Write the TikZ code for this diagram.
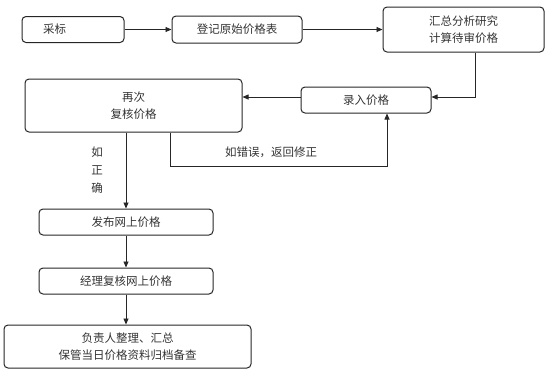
\documentclass[tikz,border=0pt]{standalone}
\usepackage{fontspec}
\newfontfamily\cjk{Noto Sans CJK SC}
\usetikzlibrary{arrows.meta,calc}

\tikzset{
  stepbox/.style={draw=black!85,line width=1pt,rounded corners=4pt,align=center,
    inner sep=0pt,text=black!80},
  link/.style={draw=black!85,line width=0.8pt},
}

\begin{document}
\begin{tikzpicture}[>={Triangle[length=6pt,width=5pt]},x=1pt,y=-1pt,
    font=\cjk\fontsize{11.5}{17}\selectfont]
  \useasboundingbox (0,0) rectangle (554,384);
  % top row
  \node[stepbox,minimum height=26pt,text width=60pt,inner xsep=21pt,align=left] (cai) at (73,29.5) {采标};
  \node[stepbox,minimum width=130pt,minimum height=27pt] (deng) at (237,29.5) {登记原始价格表};
  \node[stepbox,minimum width=161pt,minimum height=45pt] (hui) at (463.5,29.5) {汇总分析研究\\计算待审价格};
  % second row
  \node[stepbox,minimum width=130pt,minimum height=26pt] (lu) at (366,100) {录入价格};
  \node[stepbox,minimum width=217pt,minimum height=53pt] (zai) at (133.5,105.5) {再次\\复核价格};
  % lower column
  \node[stepbox,minimum width=174pt,minimum height=26pt] (fabu) at (126,222) {发布网上价格};
  \node[stepbox,minimum width=174pt,minimum height=26pt] (jingli) at (126,281) {经理复核网上价格};
  \node[stepbox,minimum width=247pt,minimum height=43pt] (fuze) at (127.5,346.5) {负责人整理、汇总\\保管当日价格资料归档备查};

  \draw[link,->] (cai) -- (deng);
  \draw[link,->] (deng) -- (hui);
  \draw[link,->] ([xshift=11.5pt]hui.south) |- ([yshift=3pt]lu.east);
  \draw[link,->] ([yshift=3pt]lu.west) -- ([yshift=3pt]lu.west -| zai.east);
  \draw[link,->] ([xshift=36.5pt]zai.south) -- ++(0,34) -| ([xshift=21pt]lu.south);
  \node[text=black!80] (err) at (271,152) {如错误，返回修正};
  \draw[link,->] (zai.south -| fabu.north) -- (fabu.north);
  \node[text=black!80,align=center,font=\cjk\fontsize{11.5}{18}\selectfont] (ok) at (97,170) {如\\正\\确};
  \draw[link,->] (fabu) -- (jingli);
  \draw[link,->] (jingli.south) -- (jingli.south |- fuze.north);
\end{tikzpicture}
\end{document}
